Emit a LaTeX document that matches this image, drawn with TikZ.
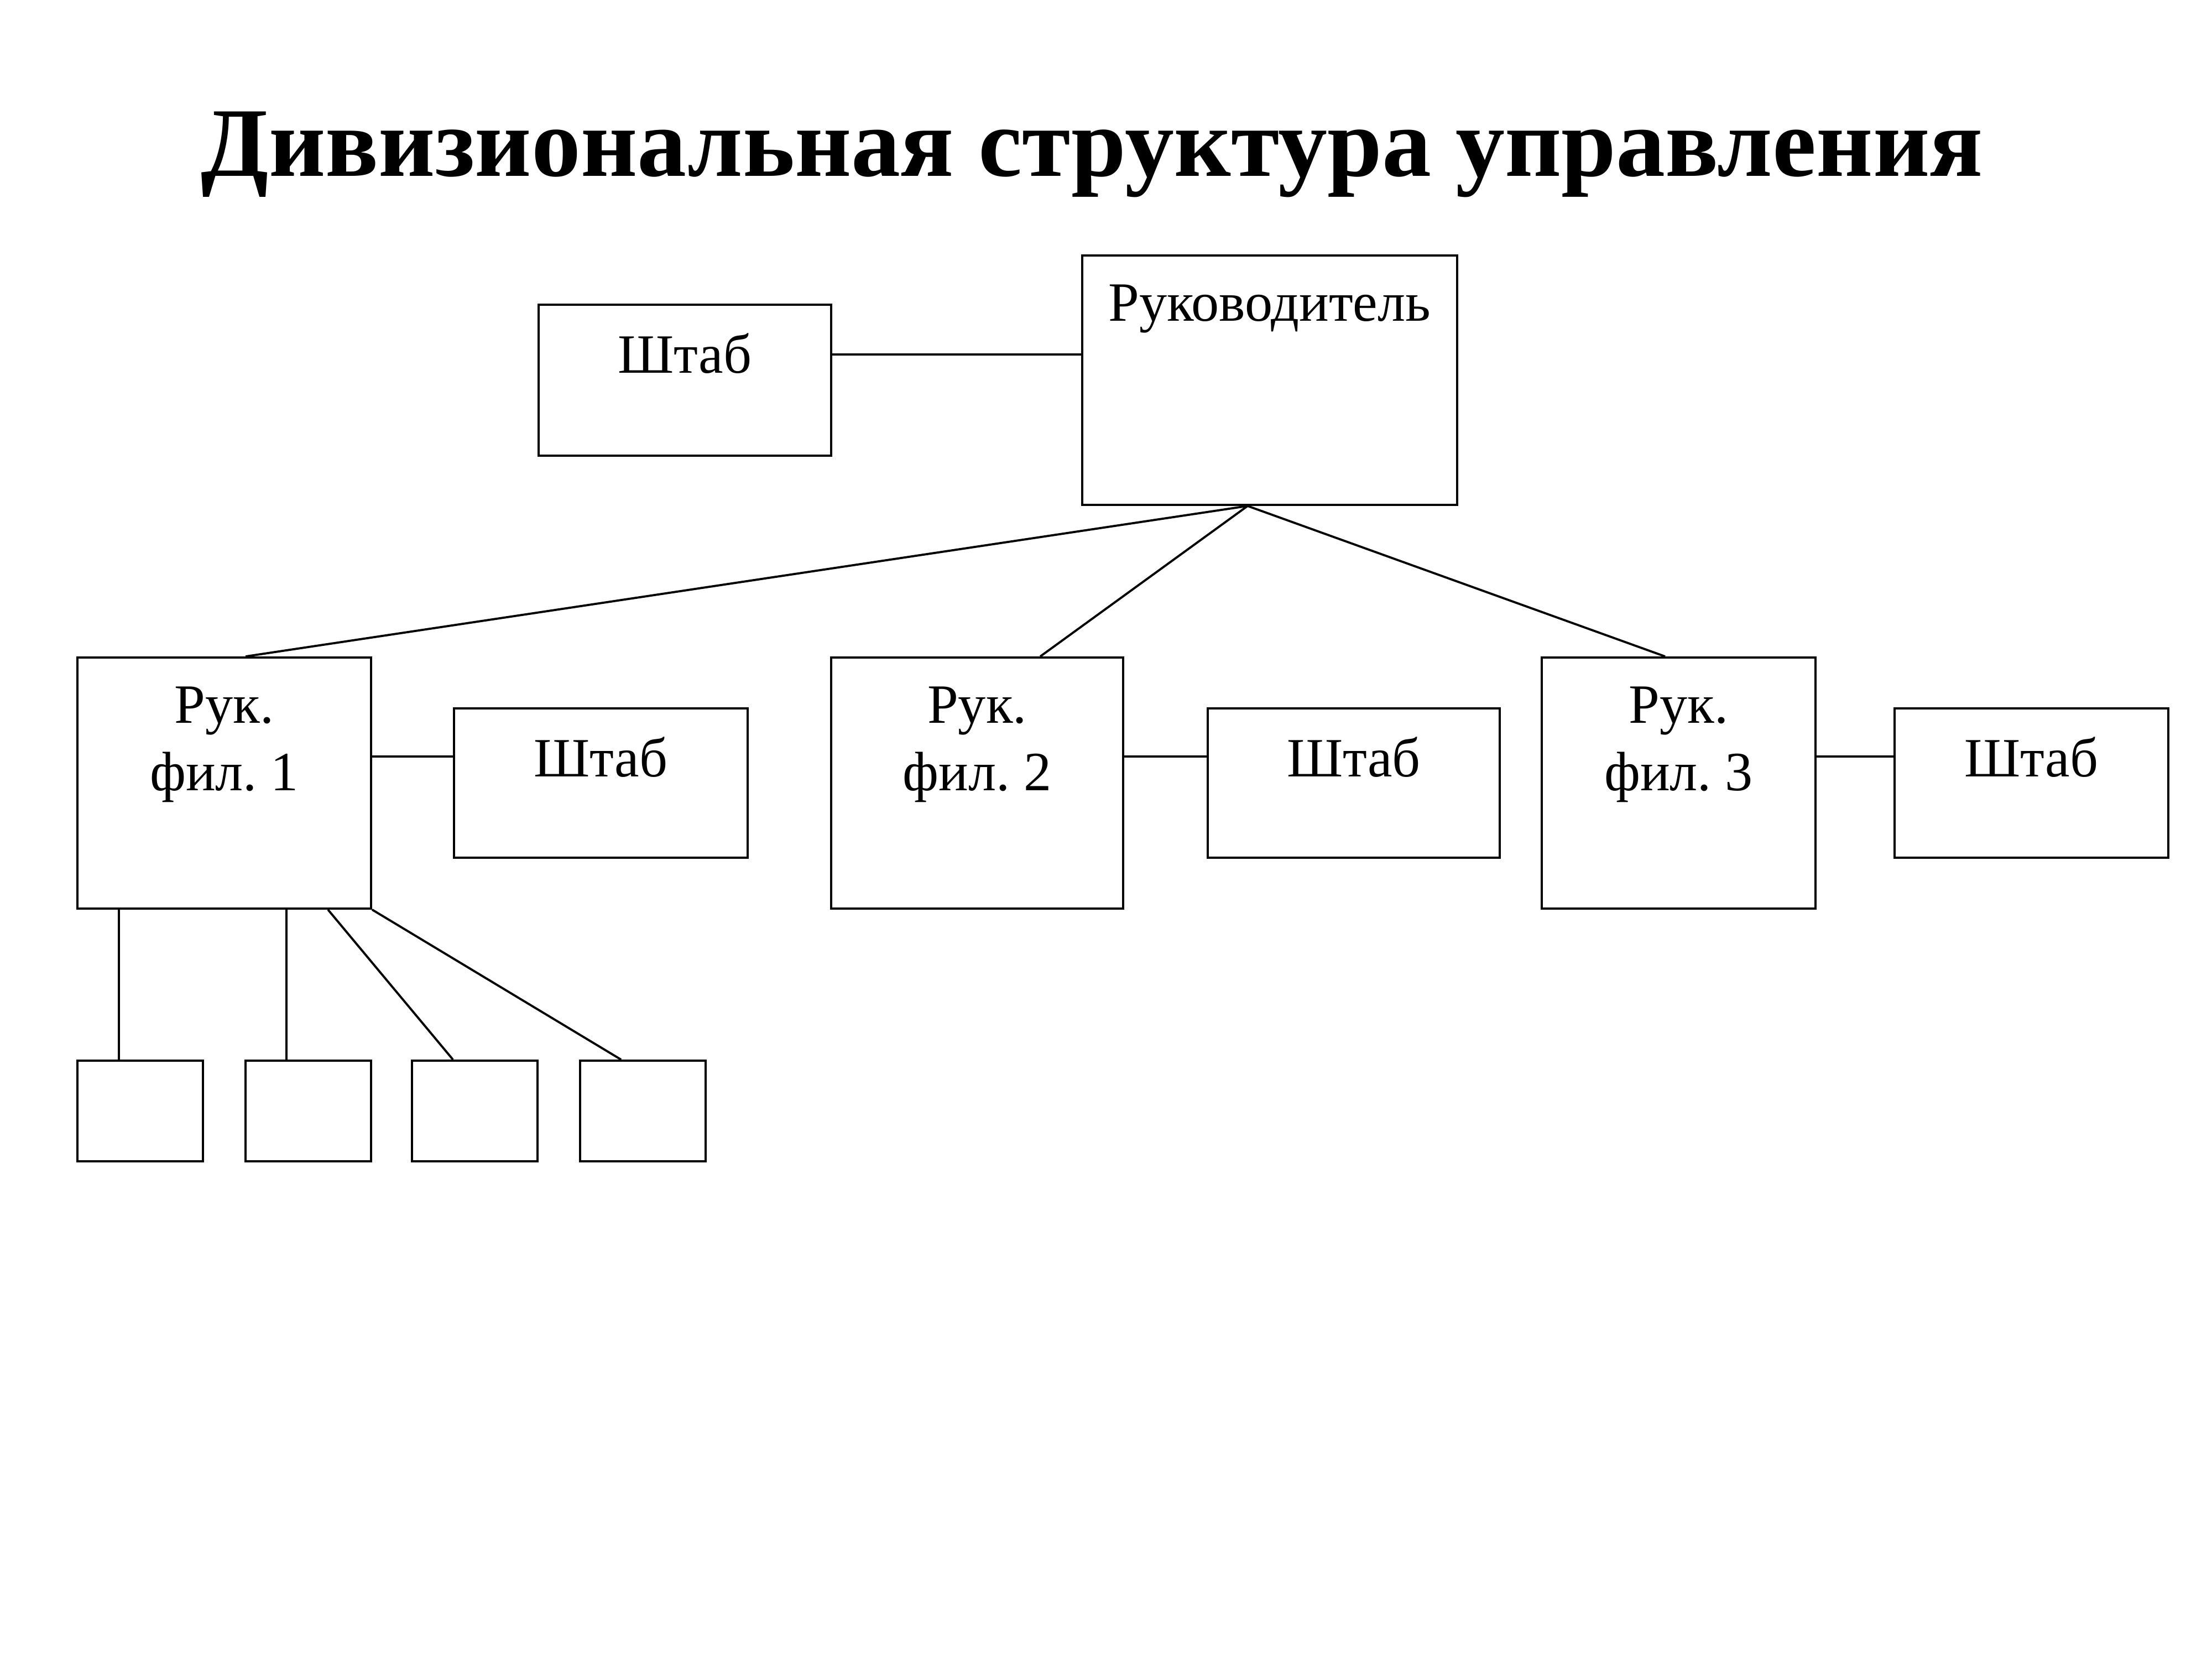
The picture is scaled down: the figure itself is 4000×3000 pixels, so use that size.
\documentclass[tikz,border=0pt]{standalone}
\usepackage{fontspec}
\setmainfont{Liberation Serif}
\usetikzlibrary{fit,calc}
\frenchspacing
\tikzset{
  box/.style={draw=black, line width=1.1pt, inner sep=0pt, rectangle},
  lbl/.style={font=\fontsize{28.5}{34.7}\selectfont, inner sep=0pt, anchor=base, align=center},
  conn/.style={line width=1.1pt, black},
}
\begin{document}
\begin{tikzpicture}[x=0.01cm, y=-0.01cm]
\useasboundingbox[fill=white] (0,0) rectangle (4000,3000);
\node[font=\fontsize{50.6}{60}\selectfont\bfseries, anchor=base, inner sep=0pt] (title) at (1975,318) {Дивизиональная структура управления};
% boxes
\node[box, fit={(1957,462) (2635,913)}] (main) {};
\node[box, fit={(974,551) (1503,824)}] (s0) {};
\node[box, fit={(140,1189) (671,1643)}] (r1) {};
\node[box, fit={(821,1281) (1352,1551)}] (s1) {};
\node[box, fit={(1503,1189) (2031,1643)}] (r2) {};
\node[box, fit={(2184,1281) (2712,1551)}] (s2) {};
\node[box, fit={(2788,1189) (3283,1643)}] (r3) {};
\node[box, fit={(3426,1281) (3921,1551)}] (s3) {};
\node[box, fit={(140,1918) (367,2100)}] (b1) {};
\node[box, fit={(444,1918) (671,2100)}] (b2) {};
\node[box, fit={(745,1918) (972,2100)}] (b3) {};
\node[box, fit={(1049,1918) (1276,2100)}] (b4) {};
% labels
\node[lbl] (tmain) at ($(main.north)+(0,120)$) {Руководитель};
\node[lbl] (ts0) at ($(s0.north)+(0,125)$) {Штаб};
\node[lbl] (tr1) at ($(r1.north)+(0,242)$) {Рук.\\фил. 1};
\node[lbl] (ts1) at ($(s1.north)+(0,125)$) {Штаб};
\node[lbl] (tr2) at ($(r2.north)+(0,242)$) {Рук.\\фил. 2};
\node[lbl] (ts2) at ($(s2.north)+(0,125)$) {Штаб};
\node[lbl] (tr3) at ($(r3.north)+(0,242)$) {Рук.\\фил. 3};
\node[lbl] (ts3) at ($(s3.north)+(0,125)$) {Штаб};
% connectors
\coordinate (mb) at ($(main.south west)+(301,0)$);
\draw[conn] (mb) -- ($(r1.north west)+(306,0)$);
\draw[conn] (mb) -- ($(r2.north west)+(380,0)$);
\draw[conn] (mb) -- ($(r3.north west)+(225,0)$);
\coordinate (c0) at ($(s0.north east)+(0,92)$);
\draw[conn] (c0) -- (c0 -| main.west);
\coordinate (c1) at ($(r1.north east)+(0,181)$);
\draw[conn] (c1) -- (c1 -| s1.west);
\coordinate (c2) at ($(r2.north east)+(0,181)$);
\draw[conn] (c2) -- (c2 -| s2.west);
\coordinate (c3) at ($(r3.north east)+(0,181)$);
\draw[conn] (c3) -- (c3 -| s3.west);
\draw[conn] ($(r1.south west)+(77,0)$) -- ($(b1.north west)+(77,0)$);
\draw[conn] ($(r1.south west)+(380,0)$) -- ($(b2.north west)+(76,0)$);
\draw[conn] ($(r1.south west)+(455,0)$) -- ($(b3.north west)+(76,0)$);
\draw[conn] (r1.south east) -- ($(b4.north west)+(76,0)$);
\end{tikzpicture}
\end{document}
